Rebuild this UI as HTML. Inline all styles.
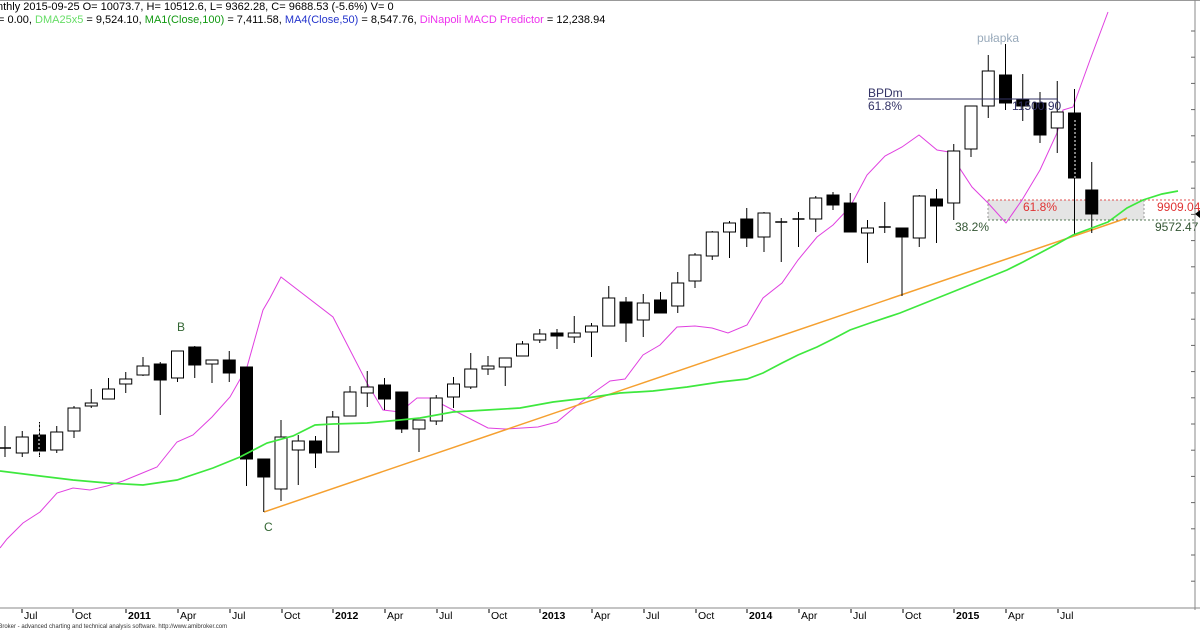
<!DOCTYPE html>
<html><head><meta charset="utf-8"><style>
html,body{margin:0;padding:0;background:#fff;}
svg{display:block;font-family:"Liberation Sans",Arial,sans-serif;}
</style></head><body>
<svg id="s" width="1200" height="630" viewBox="0 0 1200 630" xmlns="http://www.w3.org/2000/svg">
<rect width="1200" height="630" fill="#fff"/>
<line x1="0" y1="0.5" x2="1200" y2="0.5" stroke="#999"/>
<text x="-3" y="10" font-size="11" fill="#000">nthly 2015-09-25 O= 10073.7, H= 10512.6, L= 9362.28, C= 9688.53 (-5.6%) V= 0</text>
<text x="-2" y="23" font-size="11" fill="#000">= 0.00, <tspan fill="#66dd66">DMA25x5</tspan> = 9,524.10, <tspan fill="#119911">MA1(Close,100)</tspan> = 7,411.58, <tspan fill="#2233cc">MA4(Close,50)</tspan> = 8,547.76, <tspan fill="#ee33ee">DiNapoli MACD Predictor</tspan> = 12,238.94</text>
<g id="g"></g>
</svg>
<script>
var g=document.getElementById('g'),h='';
function L(a,b,c,d,s,w,da){h+='<line x1="'+a+'" y1="'+b+'" x2="'+c+'" y2="'+d+'" stroke="'+s+'" stroke-width="'+(w||1)+'"'+(da?' stroke-dasharray="'+da+'"':'')+'/>';}
function P(pts,s,w){h+='<polyline fill="none" stroke="'+s+'" stroke-width="'+w+'" points="'+pts.map(p=>p.join(',')).join(' ')+'"/>';}
function T(x,y,t,c,fs,extra){h+='<text x="'+x+'" y="'+y+'" font-size="'+fs+'" fill="'+c+'" '+(extra||'')+'>'+t+'</text>';}
h+='<rect x="988" y="200" width="156" height="20" fill="#e4e4e4"/>';
L(988,200,1195,200,'#e05050',1,'2,2');
L(988,220,1195,220,'#557755',1,'2,2');
L(988,200,988,220,'#999',1,'2,2');L(1144,200,1144,220,'#999',1,'2,2');
var C=[
[448,448,426,457,'x'],[437,453,431,457,'w'],[435,451,422,457,'b'],[432,450,426,453,'w'],[408,431,406,438,'w'],
[403,406,389,408,'w'],[389,399,378,399,'w'],[379,384,372,393,'w'],[366,375,357,376,'w'],[364,380,362,415,'b'],
[351,378,351,382,'w'],[347,365,346,378,'b'],[360,364,360,383,'w'],[360,373,351,382,'b'],[367,459,367,486,'b'],
[459,477,459,512,'b'],[437,489,420,501,'w'],[441,450,435,485,'w'],[441,453,436,468,'b'],[417,452,411,452,'w'],
[392,416,386,416,'w'],[387,393,371,407,'w'],[385,399,378,410,'b'],[392,429,392,433,'b'],[420,429,420,452,'w'],
[398,421,395,425,'w'],[384,397,377,408,'w'],[369,387,353,389,'w'],[366,369,356,375,'w'],[358,367,358,386,'w'],
[344,356,341,356,'w'],[334,340,329,343,'w'],[333,336,329,349,'b'],[333,337,316,343,'w'],[326,332,323,357,'w'],
[298,326,286,326,'w'],[302,323,297,342,'b'],[303,320,294,337,'w'],[300,313,292,313,'b'],[283,306,272,313,'w'],
[255,281,253,288,'w'],[232,256,231,260,'w'],[223,232,221,258,'w'],[219,238,208,247,'b'],[213,237,212,252,'w'],
[222,222,218,262,'x'],[219,219,212,247,'x'],[198,219,196,232,'w'],[195,205,192,210,'b'],[203,232,193,232,'b'],
[228,233,220,263,'w'],[227,227,202,233,'x'],[228,237,228,296,'b'],[196,238,195,247,'w'],[199,206,189,243,'b'],
[151,203,144,220,'w'],[106,149,106,157,'w'],[71,106,55,118,'w'],[75,103,44,110,'b'],[99,106,74,121,'b'],
[103,135,92,143,'b'],[112,128,81,153,'w'],[113,178,89,235,'b'],[190,214,162,233,'b']];
P([[0,548],[7,539],[23,523],[40,512],[57,493],[73,488],[90,490],[107,486],[123,481],[140,474],[157,467],[177,442],[193,435],[212,417],[230,397],[247,367],[263,310],[270,298],[281,277],[333,317],[367,383],[383,410],[400,412],[417,398],[430,398],[453,410],[488,428],[505,429],[538,427],[557,422],[575,407],[593,393],[610,381],[625,379],[643,355],[660,345],[677,327],[695,326],[712,328],[728,333],[747,325],[763,298],[782,283],[798,260],[817,237],[833,225],[850,207],[867,175],[885,156],[902,147],[919,135],[937,150],[949,152],[972,187],[988,203],[1006,223],[1022,200],[1040,170],[1057,133],[1063,110],[1073,107],[1090,60],[1108,12]],'#e040e0',1);
L(264,512,1127,218,'#f5a030',1.5);
for(var i=0;i<C.length;i++){var c=C[i],x=5+i*17.25;
 L(x,c[2],x,c[3],'#000',1);
 if(c[4]=='x'){L(x-6,c[0],x+6,c[0],'#000',1.5);}
 else{var hh=Math.max(c[1]-c[0],2);h+='<rect x="'+(x-6)+'" y="'+c[0]+'" width="12" height="'+hh+'" fill="'+(c[4]=='b'?'#000':'#fff')+'" stroke="#000" stroke-width="1"/>';}
}
L(39,423,39,456,'#fff',1,'2,2');L(1075,120,1075,178,'#fff',1,'2,2');
var G=[[0,471],[40,476],[73,480],[107,483],[143,485],[177,480],[213,468],[240,457],[267,443],[293,436],[315,425],[333,424],[367,423],[400,420],[420,418],[453,412],[487,410],[520,408],[553,402],[587,398],[620,393],[653,391],[687,387],[720,382],[747,379],[763,373],[782,363],[798,355],[817,347],[833,339],[850,330],[870,323],[900,313],[950,293],[1007,270],[1023,262],[1057,244],[1073,235],[1108,222],[1127,208],[1143,200],[1162,194],[1178,191]];
P(G,'#3ee83e',1.7);
L(868,99,1058,99,'#333366',1);
T(868,97,'BPDm','#333366',12);T(868,110,'61.8%','#333366',12);T(1012,110,'11500.90','#333366',12);
T(977,42,'pułapka','#99aabb',12);
T(1023,211,'61.8%','#e03333',12);T(1157,211,'9909.04','#e03333',12);
T(955,231,'38.2%','#335533',12);T(1155,231,'9572.47','#335533',12);
T(177,331,'B','#336633',12);T(264,531,'C','#336633',12);
L(1195,0,1195,610,'#888',1);L(0,608,1200,608,'#888',1);
for(var y=31;y<605;y+=26.2)L(1191,y,1195,y,'#666',1);
h+='<polygon points="1195,214 1200,210 1200,218" fill="#000"/>';
var lab=[[22,'Jul'],[73,'Oct'],[126,'2011',1],[178,'Apr'],[230,'Jul'],[282,'Oct'],[333,'2012',1],[385,'Apr'],[437,'Jul'],[489,'Oct'],[540,'2013',1],[592,'Apr'],[644,'Jul'],[696,'Oct'],[747,'2014',1],[799,'Apr'],[851,'Jul'],[903,'Oct'],[954,'2015',1],[1006,'Apr'],[1058,'Jul']];
lab.forEach(function(l){L(l[0],609,l[0],613,'#000',1);T(l[0]+2,619,l[1],'#000',10.5,l[2]?'font-weight="bold"':'');});
T(-3,628,'iBroker - advanced charting and technical analysis software. http://www.amibroker.com','#333',6);
g.innerHTML=h;
</script>
</body></html>
